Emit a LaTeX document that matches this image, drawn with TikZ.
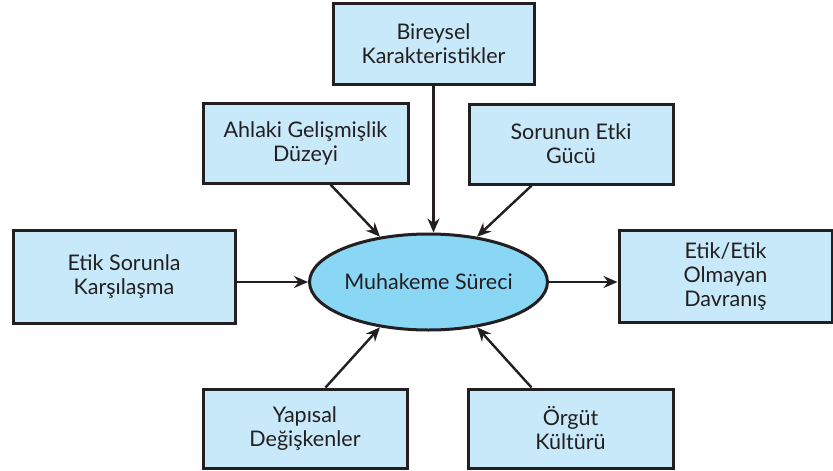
\documentclass[tikz,border=0pt]{standalone}
\usepackage{fontspec}
\setmainfont{Lato}
\usetikzlibrary{shapes.geometric,arrows.meta,calc}
\definecolor{boxfill}{HTML}{C8E9F9}
\definecolor{ellfill}{HTML}{8AD6F5}
\definecolor{ink}{HTML}{231F20}
\begin{document}
\begin{tikzpicture}[x=1pt,y=-1pt,
  box/.style={draw=ink,line width=3pt,fill=boxfill,inner sep=0pt,
    align=center,font=\fontsize{21.5}{24}\selectfont,text=ink},
  conn/.style={draw=ink,line width=2.4pt,-{Stealth[length=14pt,width=12pt]}}]
\useasboundingbox (0,0) rectangle (833,471);
\node[box,minimum width=201pt,minimum height=81pt] (bir) at (433.5,43.5) {Bireysel\\Karakteristikler};
\node[box,minimum width=205pt,minimum height=80pt] (ahl) at (305.5,143) {Ahlaki Gelişmişlik\\Düzeyi};
\node[box,minimum width=204pt,minimum height=80pt] (sor) at (571,144) {Sorunun Etki\\Gücü};
\node[box,minimum width=222pt,minimum height=93pt] (ets) at (124,276.5) {Etik Sorunla\\Karşılaşma};
\node[box,minimum width=213pt,minimum height=92pt] (eti) at (725.5,276) {Etik/Etik\\Olmayan\\Davranış};
\node[box,minimum width=204pt,minimum height=79pt] (yap) at (305,428.5) {Yapısal\\Değişkenler};
\node[box,minimum width=205pt,minimum height=79pt] (org) at (570.5,428.5) {Örgüt\\Kültürü};
\node[ellipse,draw=ink,line width=3pt,fill=ellfill,minimum width=236pt,minimum height=96pt,inner sep=0pt,
  font=\fontsize{21.5}{24}\selectfont,text=ink] (ell) at (428.5,282) {Muhakeme Süreci};
\draw[conn] (bir.south) -- (bir.south |- ell.north);
\draw[conn] ($(ahl.south west)!0.62!(ahl.south east)$) -- (ell.137);
\draw[conn] ($(sor.south west)!0.31!(sor.south east)$) -- (ell.43);
\draw[conn] ($(yap.north west)+(124,0)$) -- (ell.223);
\draw[conn] ($(org.north west)+(65,0)$) -- (ell.317);
\draw[conn] (ets.east |- ell.center) -- (ell.west);
\draw[conn] (ell.east) -- (eti.west |- ell.center);
\end{tikzpicture}
\end{document}
